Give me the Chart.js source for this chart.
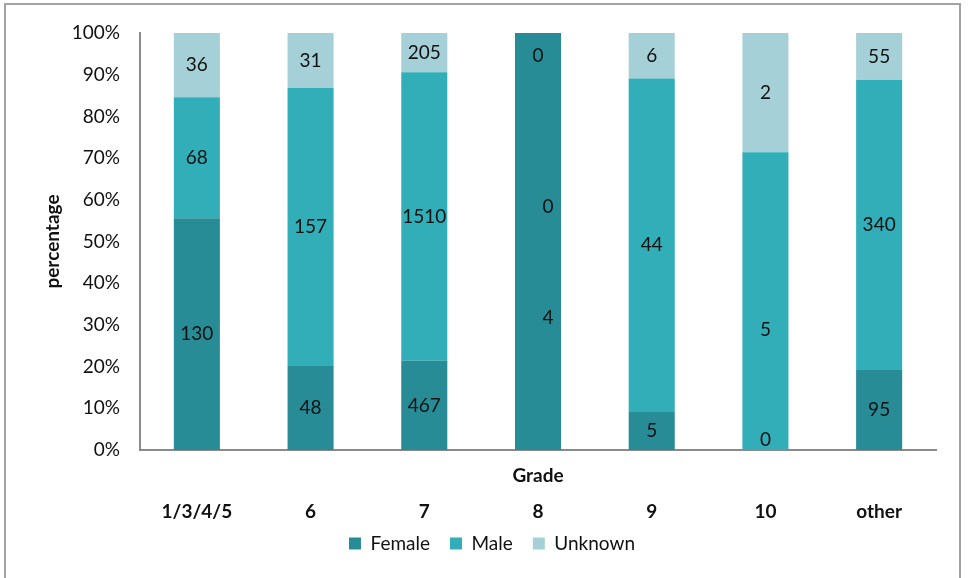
<!DOCTYPE html>
<html>
<head>
<meta charset="utf-8">
<script src="https://cdn.jsdelivr.net/npm/chart.js@4/dist/chart.umd.min.js"></script>
<style>
  html, body { margin: 0; padding: 0; background: #fff; overflow: hidden; }
  #wrap { position: relative; width: 968px; height: 578px; }
  #frame { position: absolute; left: 4px; top: 3px; width: 957px; height: 700px;
           border: 2px solid #a3a3a3; box-sizing: border-box; pointer-events: none; }
  canvas { position: absolute; left: 0; top: 0; }
</style>
</head>
<body>
<div id="wrap">
  <canvas id="chart" width="968" height="578"></canvas>
  <div id="frame"></div>
</div>
<script>
// Grades and head counts per gender
const grades  = ['1/3/4/5', '6', '7', '8', '9', '10', 'other'];
const female  = [130, 48, 467, 4, 5, 0, 95];
const male    = [68, 157, 1510, 0, 44, 5, 340];
const unknown = [36, 31, 205, 0, 6, 2, 55];
const yTicks  = [0, 10, 20, 30, 40, 50, 60, 70, 80, 90, 100];

const FONT = 'Lato, "Open Sans", "Noto Sans", sans-serif';
const SIZE = 19;

// totals per grade, used to turn counts into shares of 100%
const totals = grades.map((_, i) => female[i] + male[i] + unknown[i]);
const share = arr => arr.map((v, i) => totals[i] ? v / totals[i] * 100 : 0);

// small hand placements for a few crowded count labels (dataset-index: [dx, dy] px)
const labelNudge = {
  '0-3': [10, 76], '1-3': [10, 174], '2-3': [0, 23],
  '0-5': [0, -10], '1-5': [0, 29]
};

const countLabels = {
  id: 'countLabels',
  afterDatasetsDraw(chart) {
    const ctx = chart.ctx;
    ctx.save();
    ctx.font = SIZE + 'px ' + FONT;
    ctx.fillStyle = '#111';
    ctx.textAlign = 'center';
    ctx.textBaseline = 'middle';
    chart.data.datasets.forEach((ds, di) => {
      const meta = chart.getDatasetMeta(di);
      meta.data.forEach((el, i) => {
        const n = labelNudge[di + '-' + i] || [0, 0];
        const y = (el.y + el.base) / 2;
        ctx.fillText(String(ds.counts[i]), el.x + n[0], y + n[1]);
      });
    });
    ctx.restore();
  }
};

// legend sits a little higher and further right than the default bottom slot
const legendShift = {
  id: 'legendShift',
  afterLayout(chart) {
    const lg = chart.legend;
    if (!lg) return;
    lg.top -= 10; lg.bottom -= 10;
    lg.left += 24; lg.right += 24;
  }
};

new Chart(document.getElementById('chart'), {
  type: 'bar',
  data: {
    labels: grades,
    datasets: [
      { label: 'Female',  counts: female,  data: share(female),  backgroundColor: '#278c96' },
      { label: 'Male',    counts: male,    data: share(male),    backgroundColor: '#31aeb7' },
      { label: 'Unknown', counts: unknown, data: share(unknown), backgroundColor: '#a5d0d7' }
    ]
  },
  options: {
    responsive: false,
    animation: false,
    layout: { padding: { top: 33, right: 32, bottom: 5, left: 0 } },
    datasets: { bar: { categoryPercentage: 1, barPercentage: 0.405, borderWidth: 0 } },
    plugins: {
      tooltip: { enabled: false },
      legend: {
        position: 'bottom',
        labels: {
          boxWidth: 12, boxHeight: 12, padding: 20,
          color: '#111', font: { family: FONT, size: SIZE }
        }
      }
    },
    scales: {
      x: {
        stacked: true,
        weight: 0,
        grid: { display: false, drawTicks: false },
        border: { display: true, color: '#8a8a8a', width: 2 },
        ticks: { display: false },
        title: { display: true, text: 'Grade', color: '#111',
                 font: { family: FONT, size: SIZE, weight: 'bold' }, padding: { top: 0, bottom: 3 } },
        afterFit(s) { s.height = 40; }
      },
      x2: {
        type: 'category',
        labels: grades,
        position: 'bottom',
        weight: 1,
        offset: true,
        grid: { display: false, drawTicks: false },
        border: { display: false },
        ticks: { color: '#111', padding: 10, font: { family: FONT, size: SIZE, weight: 'bold' } },
        afterFit(s) { s.height = 34; }
      },
      y: {
        stacked: true,
        min: 0, max: 100,
        afterBuildTicks(s) { s.ticks = yTicks.map(v => ({ value: v })); },
        grid: { display: false, drawTicks: false },
        border: { display: true, color: '#8a8a8a', width: 2 },
        ticks: { color: '#111', padding: 20, font: { family: FONT, size: SIZE },
                 callback: v => v + '%' },
        title: { display: true, text: 'percentage', color: '#111',
                 font: { family: FONT, size: SIZE, weight: 'bold' }, padding: { top: 41, bottom: 0 } },
        afterFit(s) { s.width = 140; }
      }
    }
  },
  plugins: [countLabels, legendShift]
});
</script>
</body>
</html>
